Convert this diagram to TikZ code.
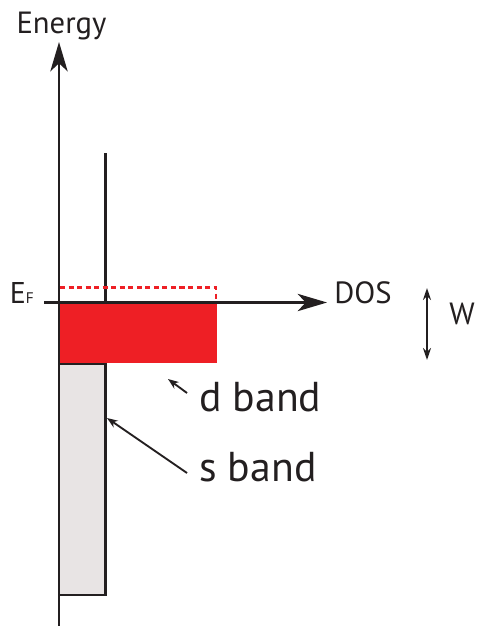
\documentclass[tikz,border=0pt]{standalone}
\usepackage{fontspec}
\setmainfont{PT Sans}
\usetikzlibrary{arrows.meta}
\definecolor{ink}{HTML}{231F20}
\definecolor{bandred}{HTML}{EE1F25}
\definecolor{sgray}{HTML}{E8E4E4}
\begin{document}
\begin{tikzpicture}[x=0.75pt,y=-0.75pt,
  axis/.style={draw=ink,line width=1.6pt,-{Stealth[length=22pt,width=13pt,inset=6pt]}},
  pointer/.style={draw=ink,line width=1.4pt,-{Stealth[length=8pt,width=6pt,inset=2.5pt]}},
  label/.style={inner sep=0pt,text=ink},
  biglabel/.style={label,font=\fontsize{31.3}{32}\selectfont},
  axislabel/.style={label,font=\fontsize{23}{24}\selectfont}]
\useasboundingbox (0,0) rectangle (477,626);

% s band: grey box below the d band, with its edge running up past E_F
\draw[ink,line width=1.6pt,fill=sgray] (59,364) rectangle (105.5,595);
\draw[ink,line width=1.6pt] (105.5,153) -- (105.5,364);

% d band: filled part below E_F and dashed empty states above it
\fill[bandred] (59,302.5) rectangle (217,363);
\draw[bandred,line width=2.1pt,dash pattern=on 3.8pt off 2.6pt] (60,287.5) -- (216,287.5) -- (216,302);

% axes
\coordinate (ybot) at (59,626);
\coordinate (ytop) at (59,42);
\coordinate (xleft) at (44,302.5);
\coordinate (xright) at (327,302.5);
\draw[axis] (ybot) -- (ytop);
\draw[axis] (xleft) -- (xright);

% axis labels
\node[axislabel,anchor=base] (energy) at (61.5,33) {Energy};
\node[axislabel,anchor=base west] (dos) at (334,303) {DOS};
\node[label,anchor=base west] (ef) at (9.5,303) {\fontsize{22.5}{23}\selectfont E\fontsize{11.5}{12}\selectfont F};

% band width
\coordinate (wtop) at (427,288);
\coordinate (wbot) at (427,360);
\draw[draw=ink,line width=1.4pt,{Stealth[length=9pt,width=6pt,inset=3pt]}-{Stealth[length=9pt,width=6pt,inset=3pt]}] (wtop) -- (wbot);
\node[axislabel,anchor=base west] (w) at (449,324) {W};

% band labels with pointers
\node[biglabel,anchor=base west] (dband) at (199,411) {d band};
\node[biglabel,anchor=base west] (sband) at (199,481) {s band};
\coordinate (dtail) at (187,393);
\coordinate (dtip) at (168,379);
\coordinate (stail) at (187,473);
\coordinate (stip) at (107,418);
\draw[pointer] (dtail) -- (dtip);
\draw[pointer] (stail) -- (stip);
\end{tikzpicture}
\end{document}
